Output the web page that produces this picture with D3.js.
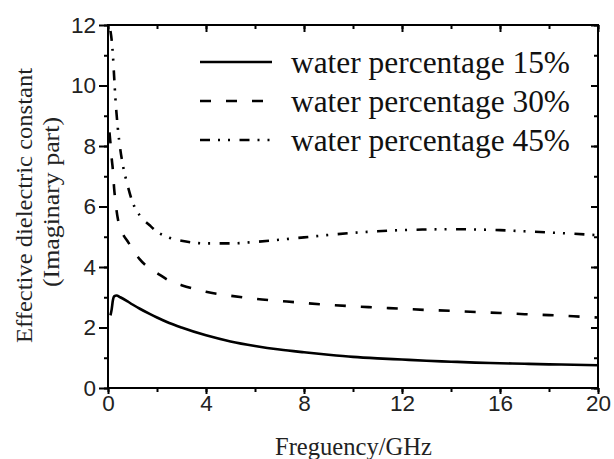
<!DOCTYPE html>
<html><head><meta charset="utf-8">
<script src="https://cdn.jsdelivr.net/npm/d3@7"></script>
<style>body{margin:0;background:#fff}</style>
</head><body>
<svg id="c" width="614" height="459"></svg>
<script>
const freq15 = [0.1,0.15,0.2,0.25,0.35,0.5,0.8,1.0,1.3,1.7,2.0,2.5,3,4,5,6,7,8,9,10,11,12,13,14,15,16,17,18,19,20];
const val15  = [2.4,2.6,2.9,3.03,3.06,3.0,2.86,2.76,2.62,2.45,2.33,2.15,2.0,1.74,1.54,1.39,1.27,1.18,1.1,1.03,0.98,0.94,0.9,0.87,0.84,0.82,0.8,0.78,0.77,0.75];
const freq30 = [0.06,0.1,0.15,0.2,0.25,0.3,0.4,0.5,0.6,0.8,1.0,1.3,1.7,2.0,2.5,3,4,5,6,7,8,9,10,11,12,13,14,15,16,17,18,19,20];
const val30  = [8.45,8.1,7.6,7.2,6.6,6.2,5.6,5.3,5.1,4.85,4.6,4.25,3.95,3.8,3.55,3.4,3.18,3.05,2.95,2.88,2.81,2.75,2.7,2.66,2.62,2.58,2.55,2.51,2.48,2.44,2.41,2.37,2.33];
const freq45 = [0.1,0.15,0.2,0.25,0.3,0.4,0.5,0.6,0.8,1.0,1.3,1.7,2.0,2.5,3,4,5,6,7,8,9,10,11,12,13,14,15,16,17,18,19,20];
const val45  = [11.8,11.5,11.0,10.3,9.6,8.6,7.9,7.4,6.7,6.15,5.7,5.38,5.17,4.97,4.87,4.78,4.78,4.83,4.9,4.98,5.06,5.13,5.18,5.22,5.24,5.25,5.24,5.22,5.18,5.14,5.1,5.05];
const seriesNames = ["water percentage 15%","water percentage 30%","water percentage 45%"];
const xTicks = [0,4,8,12,16,20];
const yTicks = [0,2,4,6,8,10,12];
const xLabel = "Freguency/GHz";
const yLabel1 = "Effective dielectric constant";
const yLabel2 = "(Imaginary part)";

const svg = d3.select("#c");
const x = d3.scaleLinear().domain([0,20]).range([108,598]);
const y = d3.scaleLinear().domain([0,12]).range([388,25]);
const dashes = [null,"11,15","10,8,2,8,2,9.5"];
const series = [[freq15,val15],[freq30,val30],[freq45,val45]];
const serif = "'Liberation Serif','Times New Roman',serif";

const line = d3.line().x(d=>x(d[0])).y(d=>y(d[1])).curve(d3.curveMonotoneX);
series.forEach((s,i)=>{
  const pts = s[0].map((f,j)=>[f,s[1][j]]);
  svg.append("path").attr("d",line(pts)).attr("fill","none").attr("stroke","#000")
    .attr("stroke-width",2.6).attr("stroke-dasharray",dashes[i]);
});

function styleAxis(g){
  g.select(".domain").remove();
  g.selectAll("line").attr("stroke","#000").attr("stroke-width",2);
  g.selectAll("text").attr("font-family","'Liberation Sans', Arial, sans-serif").attr("font-size",22.5).attr("fill","#222");
}
const xMinor = d3.range(0,21,2), yMinor = d3.range(0,13,1);
// minor ticks
svg.append("g").attr("transform","translate(0,388)").call(d3.axisBottom(x).tickValues(xMinor).tickSize(4).tickFormat("")).call(styleAxis);
svg.append("g").attr("transform","translate(0,25)").call(d3.axisBottom(x).tickValues(xMinor).tickSize(4).tickFormat("")).call(styleAxis);
svg.append("g").attr("transform","translate(108,0)").call(d3.axisLeft(y).tickValues(yMinor).tickSize(4).tickFormat("")).call(styleAxis);
svg.append("g").attr("transform","translate(598,0)").call(d3.axisLeft(y).tickValues(yMinor).tickSize(4).tickFormat("")).call(styleAxis);
// major ticks
svg.append("g").attr("transform","translate(0,388)").call(d3.axisBottom(x).tickValues(xTicks).tickSize(6).tickPadding(1).tickFormat(d3.format("d"))).call(styleAxis);
svg.append("g").attr("transform","translate(0,25)").call(d3.axisBottom(x).tickValues(xTicks).tickSize(7).tickFormat("")).call(styleAxis);
svg.append("g").attr("transform","translate(108,0)").call(d3.axisLeft(y).tickValues(yTicks).tickSize(9).tickPadding(3).tickFormat(d3.format("d"))).call(styleAxis);
svg.append("g").attr("transform","translate(598,0)").call(d3.axisLeft(y).tickValues(yTicks).tickSize(7).tickFormat("")).call(styleAxis);

svg.append("rect").attr("x",108).attr("y",25).attr("width",490).attr("height",363)
  .attr("fill","none").attr("stroke","#000").attr("stroke-width",2);

// legend
const ly = [62,101,140];
seriesNames.forEach((n,i)=>{
  svg.append("line").attr("x1",200).attr("x2",272).attr("y1",ly[i]).attr("y2",ly[i])
    .attr("stroke","#000").attr("stroke-width",2.6).attr("stroke-dasharray",dashes[i]);
  svg.append("text").attr("x",291).attr("y",ly[i]+11).text(n)
    .attr("font-family",serif).attr("font-size",31).attr("fill","#111")
    .attr("textLength",279).attr("lengthAdjust","spacingAndGlyphs");
});

svg.append("text").attr("x",353.5).attr("y",455).attr("text-anchor","middle").text(xLabel)
  .attr("font-family",serif).attr("font-size",24.5).attr("fill","#222")
  .attr("textLength",157).attr("lengthAdjust","spacingAndGlyphs");
svg.append("text").attr("transform","translate(32,205.5) rotate(-90)").attr("text-anchor","middle").text(yLabel1)
  .attr("font-family",serif).attr("font-size",24).attr("fill","#222")
  .attr("textLength",275).attr("lengthAdjust","spacingAndGlyphs");
svg.append("text").attr("transform","translate(59,202) rotate(-90)").attr("text-anchor","middle").text(yLabel2)
  .attr("font-family",serif).attr("font-size",24).attr("fill","#222")
  .attr("textLength",170).attr("lengthAdjust","spacingAndGlyphs");
</script>
</body></html>
